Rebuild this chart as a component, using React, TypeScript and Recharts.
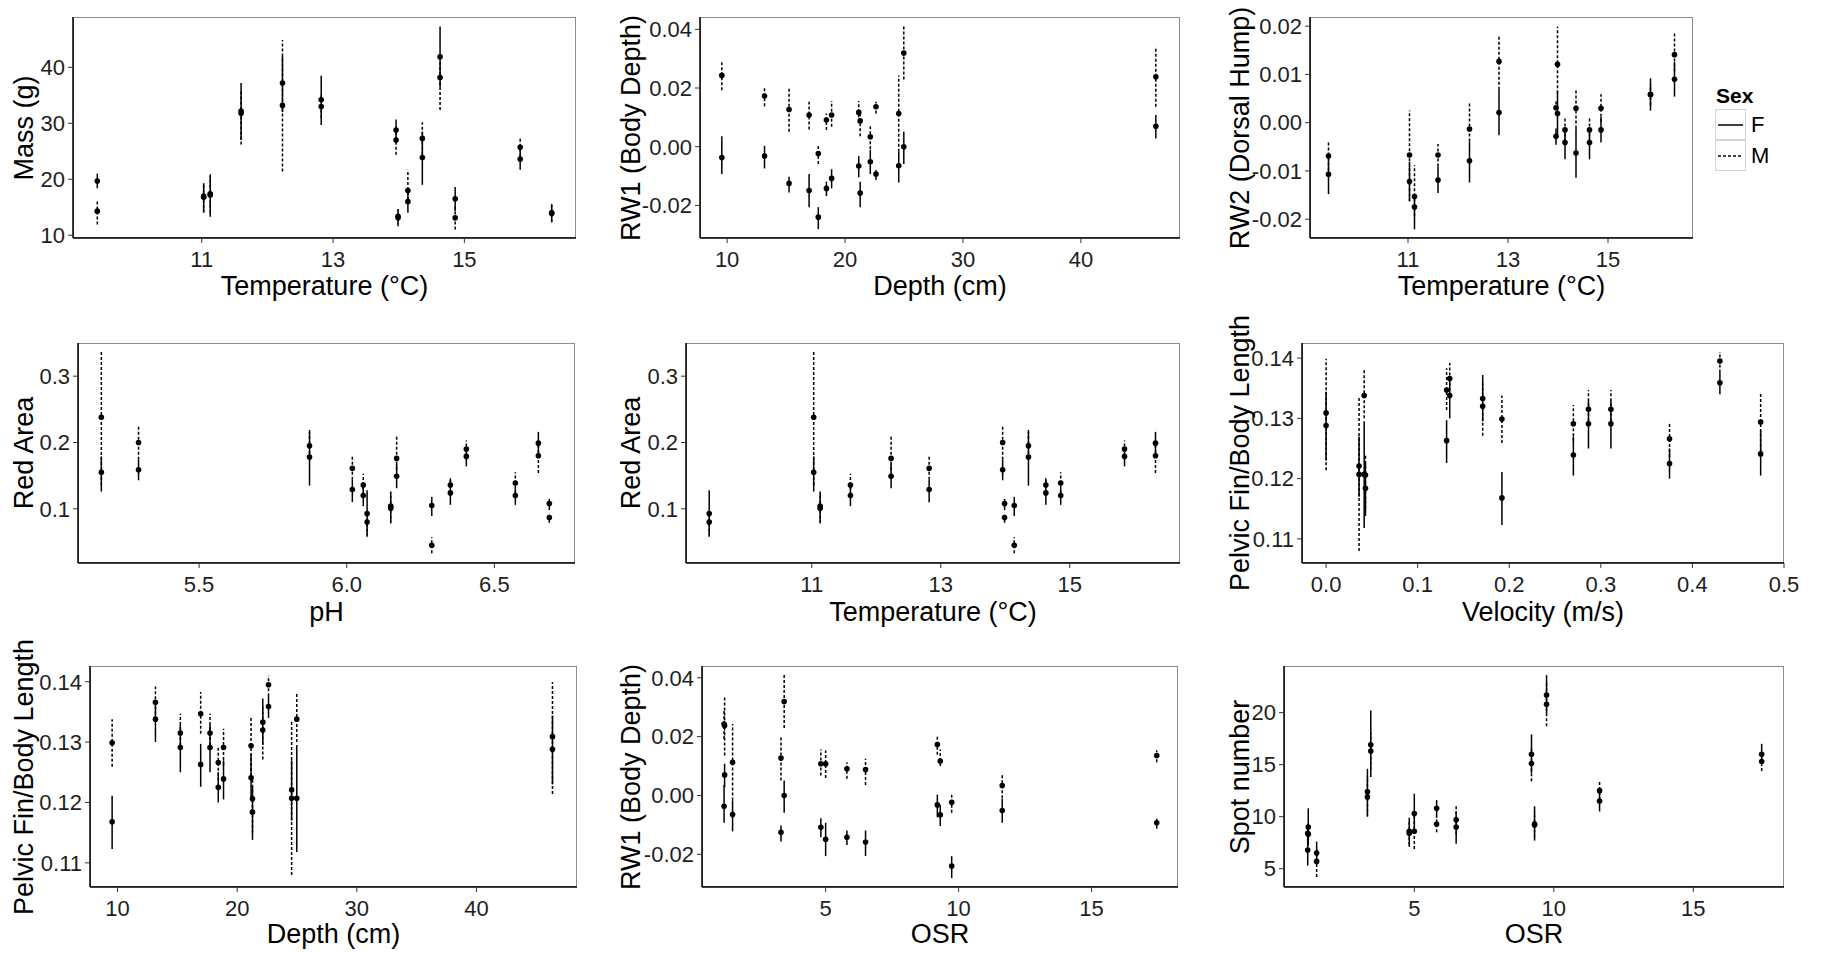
import React from "react";
import { ScatterChart, Scatter, XAxis, YAxis, ErrorBar } from "recharts";

// [mean, lower, upper]
type Stat = [number, number, number];

// sites ordered by water temperature
const temperature = [9.41, 11.03, 11.13, 11.6, 12.23, 12.82, 13.96, 13.99, 14.14, 14.36, 14.63, 14.86, 15.85, 16.33];
const ph = [6.069, 5.169, 6.149, 6.056, 6.169, 6.019, 5.295, 6.686, 6.288, 5.874, 6.351, 6.571, 6.405, 6.649];

const massF: Stat[] = [
  [19.7, 18.4, 21.0], [16.8, 14.2, 19.3], [17.2, 13.3, 20.9], [32.2, 27.0, 37.2], [37.2, 32.0, 42.0],
  [34.2, 29.7, 38.5], [28.8, 26.8, 30.7], [13.4, 12.0, 14.7], [16.0, 14.0, 18.0], [23.9, 19.0, 28.5],
  [41.9, 36.5, 47.3], [16.5, 14.3, 18.6], [23.6, 21.7, 25.5], [13.9, 12.4, 15.4],
];
const massM: Stat[] = [
  [14.3, 11.9, 16.4], [17.0, 14.0, 19.0], [17.4, 14.0, 20.5], [31.8, 26.2, 36.0], [33.2, 21.4, 44.9],
  [33.0, 31.0, 35.0], [27.0, 24.4, 29.5], [13.1, 11.6, 14.5], [18.0, 16.3, 21.7], [27.3, 24.4, 30.2],
  [38.2, 32.4, 42.0], [13.1, 11.0, 15.2], [25.7, 24.0, 27.4], [14.0, 12.3, 15.6],
];

const rw2F: Stat[] = [
  [-0.0107, -0.0148, -0.0063], [-0.0122, -0.0163, -0.0081], [-0.0175, -0.0221, -0.015], [-0.0119, -0.0146, -0.0091],
  [-0.0079, -0.0124, -0.0039], [0.0021, -0.0026, 0.0068], [-0.0028, -0.0046, -0.0012], [0.0019, -0.0029, 0.0064],
  [-0.0041, -0.0076, -0.0012], [-0.0063, -0.0114, -0.0012], [-0.0041, -0.0076, -0.0015], [-0.0015, -0.0041, 0.0012],
  [0.0059, 0.0025, 0.0092], [0.009, 0.0054, 0.0126],
];
const rw2M: Stat[] = [
  [-0.0069, -0.0099, -0.0039], [-0.0067, -0.0163, 0.0025], [-0.0153, -0.0194, -0.0088], [-0.0067, -0.0091, -0.0044],
  [-0.0013, -0.0039, 0.0041], [0.0127, 0.0068, 0.0181], [0.0031, 0.0017, 0.0045], [0.0121, 0.0061, 0.0199],
  [-0.0015, -0.0039, 0.0012], [0.003, -0.0012, 0.0069], [-0.0015, -0.0039, 0.0012], [0.003, 0.0002, 0.0059],
  [0.0058, 0.0036, 0.008], [0.0141, 0.0106, 0.0185],
];

const redF: Stat[] = [
  [0.093, 0.06, 0.128], [0.155, 0.126, 0.179], [0.104, 0.08, 0.124], [0.12, 0.104, 0.136], [0.149, 0.131, 0.168],
  [0.129, 0.11, 0.144], [0.159, 0.143, 0.174], [0.108, 0.098, 0.115], [0.105, 0.089, 0.118], [0.178, 0.135, 0.219],
  [0.124, 0.106, 0.146], [0.12, 0.106, 0.131], [0.179, 0.164, 0.191], [0.199, 0.179, 0.216],
];
const redM: Stat[] = [
  [0.08, 0.058, 0.095], [0.238, 0.136, 0.337], [0.101, 0.078, 0.126], [0.136, 0.121, 0.153], [0.176, 0.159, 0.209],
  [0.161, 0.144, 0.18], [0.2, 0.174, 0.225], [0.087, 0.079, 0.094], [0.045, 0.033, 0.057], [0.195, 0.175, 0.215],
  [0.136, 0.124, 0.146], [0.139, 0.123, 0.155], [0.19, 0.179, 0.203], [0.18, 0.154, 0.199],
];

// sites ordered by water depth
const depth = [9.55, 13.17, 15.25, 16.95, 17.73, 18.42, 18.86, 21.16, 21.28, 22.14, 22.62, 24.55, 24.98, 46.35];
const osr = [1.18, 9.2, 3.32, 5.0, 9.74, 5.8, 4.82, 9.31, 6.5, 11.64, 17.45, 1.5, 3.44, 1.2];
const velocity = [0.192, 0.135, 0.2865, 0.1316, 0.311, 0.375, 0.27, 0.4745, 0.043, 0.171, 0.43, 0.036, 0.0416, 0.0];

const rw1F: Stat[] = [
  [-0.0037, -0.0093, 0.0036], [-0.0032, -0.0074, 0.0003], [-0.0125, -0.0156, -0.0102], [-0.0149, -0.0206, -0.0093],
  [-0.024, -0.0281, -0.0206], [-0.0142, -0.0168, -0.0119], [-0.0108, -0.0142, -0.0077], [-0.0066, -0.0104, -0.0032],
  [-0.0158, -0.0206, -0.0119], [-0.0051, -0.0093, -0.0011], [-0.0093, -0.0113, -0.0079], [-0.0065, -0.0122, -0.0017],
  [0.0, -0.0059, 0.0051], [0.007, 0.0028, 0.0108],
];
const rw1M: Stat[] = [
  [0.0243, 0.0192, 0.0294], [0.0173, 0.0138, 0.0201], [0.0127, 0.0051, 0.0198], [0.0108, 0.0059, 0.0153],
  [-0.0023, -0.0059, 0.0009], [0.0091, 0.0057, 0.0113], [0.0108, 0.0068, 0.0156], [0.0117, 0.01, 0.0156],
  [0.0088, 0.0036, 0.0125], [0.0034, -0.0009, 0.007], [0.0136, 0.0113, 0.0153], [0.0113, -0.0017, 0.0243],
  [0.0319, 0.0229, 0.041], [0.0238, 0.0136, 0.0337],
];

const pelvicF: Stat[] = [
  [0.1168, 0.1123, 0.1211], [0.1338, 0.13, 0.1365], [0.1291, 0.125, 0.1329], [0.1263, 0.1226, 0.1297],
  [0.1291, 0.125, 0.1329], [0.1225, 0.12, 0.125], [0.1239, 0.1205, 0.127], [0.1241, 0.1205, 0.128],
  [0.1184, 0.1138, 0.1226], [0.1333, 0.1295, 0.1372], [0.1359, 0.134, 0.1376], [0.1221, 0.117, 0.127],
  [0.1207, 0.1118, 0.1295], [0.1288, 0.123, 0.1344],
];
const pelvicM: Stat[] = [
  [0.1299, 0.1259, 0.1338], [0.1366, 0.1338, 0.1392], [0.1315, 0.1295, 0.1347], [0.1347, 0.1314, 0.1383],
  [0.1315, 0.1295, 0.1347], [0.1266, 0.1236, 0.1292], [0.1291, 0.1262, 0.1322], [0.1294, 0.1244, 0.1343],
  [0.1206, 0.115, 0.124], [0.132, 0.1271, 0.136], [0.1395, 0.1376, 0.141], [0.1207, 0.108, 0.1335],
  [0.1338, 0.13, 0.138], [0.1309, 0.1214, 0.1399],
];

const spotF: Stat[] = [
  [6.8, 5.3, 8.3], [16.0, 14.2, 17.9], [12.4, 10.1, 14.6], [10.3, 8.6, 12.2], [21.7, 19.9, 23.6],
  [10.8, 9.9, 11.6], [8.6, 7.1, 9.9], [9.2, 7.7, 11.0], [9.0, 7.4, 10.5], [11.5, 10.5, 12.6],
  [16.0, 15.1, 17.0], [6.5, 5.4, 7.6], [16.9, 13.8, 20.2], [9.0, 7.2, 10.8],
];
const spotM: Stat[] = [
  [8.4, 7.5, 9.3], [15.1, 13.4, 16.7], [11.9, 10.0, 13.9], [8.6, 6.9, 10.2], [20.8, 18.7, 22.8],
  [9.3, 8.5, 10.0], [8.4, 7.3, 9.5], [9.3, 8.0, 10.5], [9.7, 8.3, 11.1], [12.5, 11.6, 13.4],
  [15.3, 14.4, 16.2], [5.7, 4.2, 7.0], [16.3, 14.5, 18.1], [8.3, 7.3, 9.4],
];

const toRows = (xs: number[], stats: Stat[]) =>
  xs.map((x, i) => ({ x, y: stats[i][0], err: [stats[i][0] - stats[i][1], stats[i][2] - stats[i][0]] }));

const int = (v: number) => String(v);
const f1 = (v: number) => v.toFixed(1);
const f2 = (v: number) => v.toFixed(2);

const tempTitle = "Temperature (°C)";
const depthTitle = "Depth (cm)";
const pelvicTitle = "Pelvic Fin/Body Length";
const rw1Title = "RW1 (Body Depth)";

// box = plot area [left, top, right, bottom] in page pixels
const panels = [
  { box: [73, 17, 576, 238], xs: temperature, f: massF, m: massM, xDomain: [9.04, 16.7], yDomain: [9.5, 49], xTicks: [11, 13, 15], yTicks: [10, 20, 30, 40], xFmt: int, yFmt: int, xTitle: tempTitle, yTitle: "Mass (g)", yTitleX: 24, xTitleY: 286 },
  { box: [700, 17, 1180, 238], xs: depth, f: rw1F, m: rw1M, xDomain: [7.7, 48.4], yDomain: [-0.0311, 0.0442], xTicks: [10, 20, 30, 40], yTicks: [-0.02, 0, 0.02, 0.04], xFmt: int, yFmt: f2, xTitle: depthTitle, yTitle: rw1Title, yTitleX: 631, xTitleY: 286 },
  { box: [1310, 17, 1693, 238], xs: temperature, f: rw2F, m: rw2M, xDomain: [9.04, 16.7], yDomain: [-0.0239, 0.0219], xTicks: [11, 13, 15], yTicks: [-0.02, -0.01, 0, 0.01, 0.02], xFmt: int, yFmt: f2, xTitle: tempTitle, yTitle: "RW2 (Dorsal Hump)", yTitleX: 1240, xTitleY: 286 },
  { box: [78, 343, 575, 563], xs: ph, f: redF, m: redM, xDomain: [5.09, 6.773], yDomain: [0.0183, 0.35], xTicks: [5.5, 6.0, 6.5], yTicks: [0.1, 0.2, 0.3], xFmt: f1, yFmt: f1, xTitle: "pH", yTitle: "Red Area", yTitleX: 24, xTitleY: 612 },
  { box: [686, 343, 1180, 563], xs: temperature, f: redF, m: redM, xDomain: [9.05, 16.71], yDomain: [0.0183, 0.35], xTicks: [11, 13, 15], yTicks: [0.1, 0.2, 0.3], xFmt: int, yFmt: f1, xTitle: tempTitle, yTitle: "Red Area", yTitleX: 631, xTitleY: 612 },
  { box: [1302, 343, 1784, 563], xs: velocity, f: pelvicF, m: pelvicM, xDomain: [-0.0263, 0.5], yDomain: [0.106, 0.1425], xTicks: [0, 0.1, 0.2, 0.3, 0.4, 0.5], yTicks: [0.11, 0.12, 0.13, 0.14], xFmt: f1, yFmt: f2, xTitle: "Velocity (m/s)", yTitle: pelvicTitle, yTitleX: 1240, xTitleY: 612 },
  { box: [90, 666, 577, 887], xs: depth, f: pelvicF, m: pelvicM, xDomain: [7.7, 48.4], yDomain: [0.106, 0.1426], xTicks: [10, 20, 30, 40], yTicks: [0.11, 0.12, 0.13, 0.14], xFmt: int, yFmt: f2, xTitle: depthTitle, yTitle: pelvicTitle, yTitleX: 24, xTitleY: 934 },
  { box: [702, 666, 1178, 887], xs: osr, f: rw1F, m: rw1M, xDomain: [0.35, 18.25], yDomain: [-0.0311, 0.044], xTicks: [5, 10, 15], yTicks: [-0.02, 0, 0.02, 0.04], xFmt: int, yFmt: f2, xTitle: "OSR", yTitle: rw1Title, yTitleX: 631, xTitleY: 934 },
  { box: [1284, 666, 1784, 887], xs: osr, f: spotF, m: spotM, xDomain: [0.33, 18.25], yDomain: [3.24, 24.48], xTicks: [5, 10, 15], yTicks: [5, 10, 15, 20], xFmt: int, yFmt: int, xTitle: "OSR", yTitle: "Spot number", yTitleX: 1240, xTitleY: 934 },
];

const Dot = (props: any) => <circle cx={props.cx} cy={props.cy} r={2.8} fill="#000" />;

const tickStyle = { fill: "#1e1e1e", fontSize: 22 };

function Panel({ p }: { p: (typeof panels)[number] }) {
  const L = 90;
  const R = 30;
  const T = 6;
  const B = 44;
  const [x0, y0, x1, y1] = p.box;
  const w = x1 - x0;
  const h = y1 - y0;
  return (
    <>
      <div
        style={{
          position: "absolute",
          left: x0,
          top: y0,
          width: w,
          height: h,
          border: "1px solid #8c8c8c",
          boxSizing: "border-box",
        }}
      />
      <div style={{ position: "absolute", left: x0 - L, top: y0 - T }}>
        <ScatterChart width={L + w + R} height={T + h + B} margin={{ top: T, right: R, bottom: 0, left: 0 }}>
          <XAxis
            type="number"
            dataKey="x"
            domain={p.xDomain}
            ticks={p.xTicks}
            allowDataOverflow
            interval={0}
            height={B}
            tickFormatter={p.xFmt}
            tick={tickStyle}
            tickSize={5}
            tickMargin={8}
            tickLine={{ stroke: "#333" }}
            axisLine={{ stroke: "#000", strokeWidth: 1.5 }}
          />
          <YAxis
            type="number"
            dataKey="y"
            domain={p.yDomain}
            ticks={p.yTicks}
            allowDataOverflow
            interval={0}
            width={L}
            tickFormatter={p.yFmt}
            tick={tickStyle}
            tickSize={5}
            tickMargin={3}
            tickLine={{ stroke: "#333" }}
            axisLine={{ stroke: "#000", strokeWidth: 1.5 }}
          />
          <Scatter data={toRows(p.xs, p.f)} shape={Dot} isAnimationActive={false}>
            <ErrorBar dataKey="err" direction="y" width={0} stroke="#000" strokeWidth={1.5} />
          </Scatter>
          <Scatter data={toRows(p.xs, p.m)} shape={Dot} isAnimationActive={false}>
            <ErrorBar dataKey="err" direction="y" width={0} stroke="#000" strokeWidth={1.5} strokeDasharray="3 2" />
          </Scatter>
        </ScatterChart>
      </div>
      <div
        style={{
          position: "absolute",
          left: (x0 + x1) / 2,
          top: p.xTitleY,
          transform: "translate(-50%, -50%)",
          fontSize: 27,
          whiteSpace: "nowrap",
        }}
      >
        {p.xTitle}
      </div>
      <div
        style={{
          position: "absolute",
          left: p.yTitleX,
          top: (y0 + y1) / 2,
          transform: "translate(-50%, -50%) rotate(-90deg)",
          fontSize: 27,
          whiteSpace: "nowrap",
        }}
      >
        {p.yTitle}
      </div>
    </>
  );
}

function Key({ top, dash }: { top: number; dash?: string }) {
  return (
    <div
      style={{
        position: "absolute",
        left: 1715,
        top,
        width: 31,
        height: 31,
        border: "1px solid #d4d4d4",
        boxSizing: "border-box",
      }}
    >
      <svg width={29} height={29} style={{ display: "block" }}>
        <line x1={2} y1={15} x2={27} y2={15} stroke="#000" strokeWidth={1.5} strokeDasharray={dash} />
      </svg>
    </div>
  );
}

export default function App() {
  return (
    <div
      style={{
        position: "absolute",
        left: 0,
        top: 0,
        width: 1823,
        height: 953,
        background: "#fff",
        color: "#000",
        fontFamily: '"Liberation Sans", Arial, sans-serif',
      }}
    >
      {panels.map((p, i) => (
        <Panel key={i} p={p} />
      ))}
      <div style={{ position: "absolute", left: 1716, top: 83, fontSize: 21, fontWeight: "bold", lineHeight: "26px" }}>
        Sex
      </div>
      <Key top={109} />
      <Key top={140} dash="3 2" />
      <div style={{ position: "absolute", left: 1751, top: 112, fontSize: 22, lineHeight: "26px" }}>F</div>
      <div style={{ position: "absolute", left: 1751, top: 143, fontSize: 22, lineHeight: "26px" }}>M</div>
    </div>
  );
}
